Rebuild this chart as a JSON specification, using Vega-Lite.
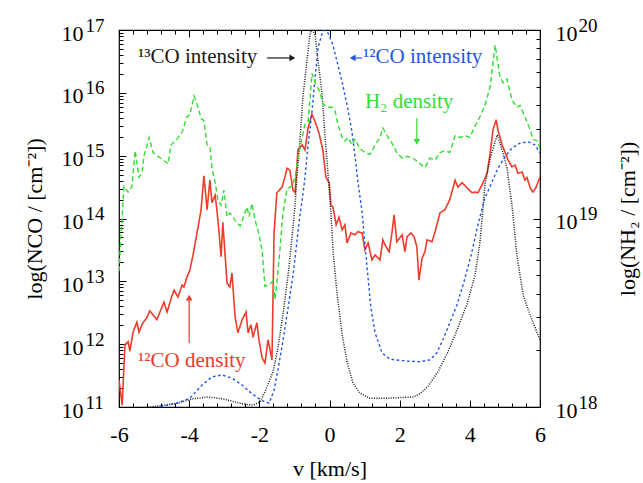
{
  "$schema": "https://vega.github.io/schema/vega-lite/v6.json",
  "width": 421,
  "height": 377,
  "autosize": {"type": "none"},
  "padding": {"left": 119, "top": 30, "right": 103, "bottom": 76},
  "background": "white",
  "config": {
    "view": {"stroke": "#000", "strokeWidth": 1.2},
    "font": "Liberation Serif",
    "axis": {"domain": false, "grid": false, "tickColor": "#000", "tickWidth": 1, "labelColor": "#000", "titleColor": "#000", "labelFont": "Liberation Serif", "titleFont": "Liberation Serif", "titleFontWeight": "normal", "labelFontSize": 22, "titleFontSize": 22, "labelOverlap": false, "labelFlush": false}
  },
  "datasets": {
    "co": [
      {"v":-6.00,"L":11.43,"s":"12CO density"},{"v":-5.91,"L":11.03,"s":"12CO density"},{"v":-5.83,"L":11.99,"s":"12CO density"},{"v":-5.74,"L":12.04,"s":"12CO density"},{"v":-5.69,"L":11.89,"s":"12CO density"},{"v":-5.60,"L":12.19,"s":"12CO density"},{"v":-5.49,"L":12.35,"s":"12CO density"},{"v":-5.43,"L":12.19,"s":"12CO density"},{"v":-5.34,"L":12.32,"s":"12CO density"},{"v":-5.20,"L":12.43,"s":"12CO density"},{"v":-5.12,"L":12.53,"s":"12CO density"},{"v":-4.92,"L":12.39,"s":"12CO density"},{"v":-4.72,"L":12.67,"s":"12CO density"},{"v":-4.63,"L":12.51,"s":"12CO density"},{"v":-4.49,"L":12.77,"s":"12CO density"},{"v":-4.43,"L":12.86,"s":"12CO density"},{"v":-4.32,"L":12.75,"s":"12CO density"},{"v":-4.20,"L":12.94,"s":"12CO density"},{"v":-4.15,"L":12.91,"s":"12CO density"},{"v":-4.06,"L":13.07,"s":"12CO density"},{"v":-3.98,"L":13.18,"s":"12CO density"},{"v":-3.89,"L":13.42,"s":"12CO density"},{"v":-3.75,"L":13.85,"s":"12CO density"},{"v":-3.66,"L":14.14,"s":"12CO density"},{"v":-3.58,"L":14.68,"s":"12CO density"},{"v":-3.49,"L":14.14,"s":"12CO density"},{"v":-3.41,"L":14.61,"s":"12CO density"},{"v":-3.35,"L":14.25,"s":"12CO density"},{"v":-3.26,"L":14.37,"s":"12CO density"},{"v":-3.21,"L":14.14,"s":"12CO density"},{"v":-3.15,"L":13.79,"s":"12CO density"},{"v":-3.09,"L":13.39,"s":"12CO density"},{"v":-3.04,"L":13.94,"s":"12CO density"},{"v":-2.92,"L":12.97,"s":"12CO density"},{"v":-2.84,"L":12.91,"s":"12CO density"},{"v":-2.78,"L":13.13,"s":"12CO density"},{"v":-2.69,"L":12.43,"s":"12CO density"},{"v":-2.61,"L":12.18,"s":"12CO density"},{"v":-2.49,"L":12.39,"s":"12CO density"},{"v":-2.38,"L":12.51,"s":"12CO density"},{"v":-2.32,"L":12.18,"s":"12CO density"},{"v":-2.24,"L":12.31,"s":"12CO density"},{"v":-2.18,"L":12.11,"s":"12CO density"},{"v":-2.07,"L":12.34,"s":"12CO density"},{"v":-2.01,"L":12.07,"s":"12CO density"},{"v":-1.92,"L":11.78,"s":"12CO density"},{"v":-1.84,"L":11.70,"s":"12CO density"},{"v":-1.75,"L":12.07,"s":"12CO density"},{"v":-1.64,"L":11.75,"s":"12CO density"},{"v":-1.58,"L":13.77,"s":"12CO density"},{"v":-1.50,"L":14.41,"s":"12CO density"},{"v":-1.35,"L":14.50,"s":"12CO density"},{"v":-1.27,"L":14.66,"s":"12CO density"},{"v":-1.21,"L":14.80,"s":"12CO density"},{"v":-1.13,"L":14.77,"s":"12CO density"},{"v":-1.04,"L":14.45,"s":"12CO density"},{"v":-0.98,"L":14.41,"s":"12CO density"},{"v":-0.90,"L":15.09,"s":"12CO density"},{"v":-0.78,"L":15.17,"s":"12CO density"},{"v":-0.70,"L":15.09,"s":"12CO density"},{"v":-0.61,"L":15.44,"s":"12CO density"},{"v":-0.50,"L":15.66,"s":"12CO density"},{"v":-0.41,"L":15.54,"s":"12CO density"},{"v":-0.30,"L":15.36,"s":"12CO density"},{"v":-0.19,"L":15.09,"s":"12CO density"},{"v":-0.10,"L":14.65,"s":"12CO density"},{"v":-0.01,"L":14.57,"s":"12CO density"},{"v":0.04,"L":14.22,"s":"12CO density"},{"v":0.10,"L":14.18,"s":"12CO density"},{"v":0.19,"L":13.90,"s":"12CO density"},{"v":0.27,"L":14.02,"s":"12CO density"},{"v":0.36,"L":13.82,"s":"12CO density"},{"v":0.44,"L":13.90,"s":"12CO density"},{"v":0.50,"L":13.61,"s":"12CO density"},{"v":0.61,"L":13.77,"s":"12CO density"},{"v":0.73,"L":13.74,"s":"12CO density"},{"v":0.81,"L":13.79,"s":"12CO density"},{"v":0.93,"L":13.77,"s":"12CO density"},{"v":1.01,"L":13.50,"s":"12CO density"},{"v":1.10,"L":13.61,"s":"12CO density"},{"v":1.21,"L":13.34,"s":"12CO density"},{"v":1.30,"L":13.42,"s":"12CO density"},{"v":1.44,"L":13.34,"s":"12CO density"},{"v":1.52,"L":13.66,"s":"12CO density"},{"v":1.61,"L":13.55,"s":"12CO density"},{"v":1.70,"L":13.47,"s":"12CO density"},{"v":1.78,"L":13.77,"s":"12CO density"},{"v":1.84,"L":14.06,"s":"12CO density"},{"v":1.92,"L":13.63,"s":"12CO density"},{"v":2.07,"L":13.74,"s":"12CO density"},{"v":2.15,"L":13.47,"s":"12CO density"},{"v":2.21,"L":13.71,"s":"12CO density"},{"v":2.32,"L":13.77,"s":"12CO density"},{"v":2.41,"L":13.71,"s":"12CO density"},{"v":2.49,"L":13.55,"s":"12CO density"},{"v":2.55,"L":13.02,"s":"12CO density"},{"v":2.64,"L":13.37,"s":"12CO density"},{"v":2.72,"L":13.47,"s":"12CO density"},{"v":2.78,"L":13.66,"s":"12CO density"},{"v":2.92,"L":13.63,"s":"12CO density"},{"v":3.01,"L":13.79,"s":"12CO density"},{"v":3.15,"L":14.09,"s":"12CO density"},{"v":3.29,"L":14.14,"s":"12CO density"},{"v":3.43,"L":14.30,"s":"12CO density"},{"v":3.58,"L":14.61,"s":"12CO density"},{"v":3.66,"L":14.50,"s":"12CO density"},{"v":3.78,"L":14.57,"s":"12CO density"},{"v":3.92,"L":14.49,"s":"12CO density"},{"v":4.06,"L":14.41,"s":"12CO density"},{"v":4.15,"L":14.42,"s":"12CO density"},{"v":4.23,"L":14.41,"s":"12CO density"},{"v":4.38,"L":14.57,"s":"12CO density"},{"v":4.49,"L":14.72,"s":"12CO density"},{"v":4.58,"L":15.04,"s":"12CO density"},{"v":4.66,"L":15.41,"s":"12CO density"},{"v":4.75,"L":15.57,"s":"12CO density"},{"v":4.80,"L":15.41,"s":"12CO density"},{"v":4.92,"L":15.17,"s":"12CO density"},{"v":5.00,"L":15.06,"s":"12CO density"},{"v":5.09,"L":14.93,"s":"12CO density"},{"v":5.20,"L":14.82,"s":"12CO density"},{"v":5.29,"L":14.85,"s":"12CO density"},{"v":5.37,"L":14.72,"s":"12CO density"},{"v":5.49,"L":14.74,"s":"12CO density"},{"v":5.57,"L":14.61,"s":"12CO density"},{"v":5.63,"L":14.65,"s":"12CO density"},{"v":5.72,"L":14.49,"s":"12CO density"},{"v":5.80,"L":14.42,"s":"12CO density"},{"v":5.89,"L":14.50,"s":"12CO density"},{"v":6.00,"L":14.66,"s":"12CO density"},
      {"v":-6.00,"L":10.98,"s":"13CO intensity"},{"v":-5.40,"L":10.98,"s":"13CO intensity"},{"v":-4.83,"L":11.02,"s":"13CO intensity"},{"v":-4.35,"L":11.06,"s":"13CO intensity"},{"v":-3.89,"L":11.13,"s":"13CO intensity"},{"v":-3.46,"L":11.16,"s":"13CO intensity"},{"v":-3.04,"L":11.13,"s":"13CO intensity"},{"v":-2.49,"L":11.05,"s":"13CO intensity"},{"v":-2.18,"L":11.03,"s":"13CO intensity"},{"v":-1.98,"L":11.08,"s":"13CO intensity"},{"v":-1.84,"L":11.24,"s":"13CO intensity"},{"v":-1.61,"L":11.56,"s":"13CO intensity"},{"v":-1.47,"L":11.94,"s":"13CO intensity"},{"v":-1.33,"L":12.46,"s":"13CO intensity"},{"v":-1.18,"L":13.10,"s":"13CO intensity"},{"v":-1.07,"L":13.69,"s":"13CO intensity"},{"v":-0.98,"L":14.22,"s":"13CO intensity"},{"v":-0.93,"L":14.65,"s":"13CO intensity"},{"v":-0.84,"L":15.25,"s":"13CO intensity"},{"v":-0.76,"L":15.92,"s":"13CO intensity"},{"v":-0.64,"L":16.52,"s":"13CO intensity"},{"v":-0.56,"L":16.92,"s":"13CO intensity"},{"v":-0.50,"L":17.02,"s":"13CO intensity"},{"v":-0.41,"L":16.92,"s":"13CO intensity"},{"v":-0.33,"L":16.52,"s":"13CO intensity"},{"v":-0.21,"L":15.97,"s":"13CO intensity"},{"v":-0.13,"L":15.33,"s":"13CO intensity"},{"v":-0.04,"L":14.69,"s":"13CO intensity"},{"v":0.04,"L":14.10,"s":"13CO intensity"},{"v":0.10,"L":13.50,"s":"13CO intensity"},{"v":0.21,"L":12.83,"s":"13CO intensity"},{"v":0.36,"L":12.15,"s":"13CO intensity"},{"v":0.50,"L":11.72,"s":"13CO intensity"},{"v":0.67,"L":11.38,"s":"13CO intensity"},{"v":0.87,"L":11.22,"s":"13CO intensity"},{"v":1.15,"L":11.14,"s":"13CO intensity"},{"v":1.67,"L":11.14,"s":"13CO intensity"},{"v":2.38,"L":11.16,"s":"13CO intensity"},{"v":2.58,"L":11.21,"s":"13CO intensity"},{"v":2.81,"L":11.33,"s":"13CO intensity"},{"v":3.09,"L":11.56,"s":"13CO intensity"},{"v":3.38,"L":11.88,"s":"13CO intensity"},{"v":3.66,"L":12.26,"s":"13CO intensity"},{"v":3.92,"L":12.64,"s":"13CO intensity"},{"v":4.15,"L":13.10,"s":"13CO intensity"},{"v":4.29,"L":13.63,"s":"13CO intensity"},{"v":4.43,"L":14.53,"s":"13CO intensity"},{"v":4.58,"L":14.96,"s":"13CO intensity"},{"v":4.78,"L":15.33,"s":"13CO intensity"},{"v":4.92,"L":15.09,"s":"13CO intensity"},{"v":5.06,"L":14.80,"s":"13CO intensity"},{"v":5.20,"L":14.22,"s":"13CO intensity"},{"v":5.34,"L":13.42,"s":"13CO intensity"},{"v":5.52,"L":12.78,"s":"13CO intensity"},{"v":5.72,"L":12.46,"s":"13CO intensity"},{"v":5.94,"L":12.15,"s":"13CO intensity"},{"v":6.00,"L":12.07,"s":"13CO intensity"},
      {"v":-6.00,"L":10.98,"s":"12CO intensity"},{"v":-5.12,"L":10.98,"s":"12CO intensity"},{"v":-4.69,"L":11.02,"s":"12CO intensity"},{"v":-4.35,"L":11.06,"s":"12CO intensity"},{"v":-3.98,"L":11.14,"s":"12CO intensity"},{"v":-3.63,"L":11.35,"s":"12CO intensity"},{"v":-3.35,"L":11.48,"s":"12CO intensity"},{"v":-3.06,"L":11.51,"s":"12CO intensity"},{"v":-2.78,"L":11.46,"s":"12CO intensity"},{"v":-2.49,"L":11.35,"s":"12CO intensity"},{"v":-2.21,"L":11.21,"s":"12CO intensity"},{"v":-1.92,"L":11.10,"s":"12CO intensity"},{"v":-1.72,"L":11.06,"s":"12CO intensity"},{"v":-1.58,"L":11.27,"s":"12CO intensity"},{"v":-1.47,"L":11.59,"s":"12CO intensity"},{"v":-1.33,"L":12.04,"s":"12CO intensity"},{"v":-1.18,"L":12.58,"s":"12CO intensity"},{"v":-1.04,"L":13.10,"s":"12CO intensity"},{"v":-0.93,"L":13.63,"s":"12CO intensity"},{"v":-0.84,"L":14.06,"s":"12CO intensity"},{"v":-0.76,"L":14.37,"s":"12CO intensity"},{"v":-0.70,"L":14.65,"s":"12CO intensity"},{"v":-0.61,"L":15.17,"s":"12CO intensity"},{"v":-0.50,"L":15.70,"s":"12CO intensity"},{"v":-0.41,"L":16.24,"s":"12CO intensity"},{"v":-0.33,"L":16.71,"s":"12CO intensity"},{"v":-0.21,"L":16.95,"s":"12CO intensity"},{"v":-0.13,"L":17.00,"s":"12CO intensity"},{"v":-0.04,"L":16.95,"s":"12CO intensity"},{"v":0.10,"L":16.76,"s":"12CO intensity"},{"v":0.24,"L":16.44,"s":"12CO intensity"},{"v":0.36,"L":16.17,"s":"12CO intensity"},{"v":0.50,"L":15.81,"s":"12CO intensity"},{"v":0.64,"L":15.38,"s":"12CO intensity"},{"v":0.73,"L":14.98,"s":"12CO intensity"},{"v":0.81,"L":14.58,"s":"12CO intensity"},{"v":0.93,"L":14.10,"s":"12CO intensity"},{"v":1.01,"L":13.58,"s":"12CO intensity"},{"v":1.10,"L":13.05,"s":"12CO intensity"},{"v":1.18,"L":12.58,"s":"12CO intensity"},{"v":1.30,"L":12.18,"s":"12CO intensity"},{"v":1.50,"L":11.86,"s":"12CO intensity"},{"v":1.72,"L":11.76,"s":"12CO intensity"},{"v":2.21,"L":11.73,"s":"12CO intensity"},{"v":2.58,"L":11.72,"s":"12CO intensity"},{"v":2.86,"L":11.75,"s":"12CO intensity"},{"v":3.06,"L":11.86,"s":"12CO intensity"},{"v":3.23,"L":12.07,"s":"12CO intensity"},{"v":3.43,"L":12.34,"s":"12CO intensity"},{"v":3.63,"L":12.62,"s":"12CO intensity"},{"v":3.83,"L":12.99,"s":"12CO intensity"},{"v":4.03,"L":13.40,"s":"12CO intensity"},{"v":4.23,"L":13.90,"s":"12CO intensity"},{"v":4.43,"L":14.33,"s":"12CO intensity"},{"v":4.63,"L":14.58,"s":"12CO intensity"},{"v":4.80,"L":14.80,"s":"12CO intensity"},{"v":5.00,"L":14.98,"s":"12CO intensity"},{"v":5.20,"L":15.12,"s":"12CO intensity"},{"v":5.43,"L":15.20,"s":"12CO intensity"},{"v":5.66,"L":15.22,"s":"12CO intensity"},{"v":5.86,"L":15.17,"s":"12CO intensity"},{"v":6.00,"L":15.04,"s":"12CO intensity"}
    ],
    "h2": [
      {"v":-6.00,"H":18.72},{"v":-5.86,"H":19.17},{"v":-5.74,"H":19.14},{"v":-5.63,"H":19.17},{"v":-5.54,"H":19.36},{"v":-5.43,"H":19.22},{"v":-5.34,"H":19.24},{"v":-5.29,"H":19.33},{"v":-5.14,"H":19.43},{"v":-5.03,"H":19.35},{"v":-4.74,"H":19.31},{"v":-4.60,"H":19.29},{"v":-4.52,"H":19.39},{"v":-4.35,"H":19.42},{"v":-4.20,"H":19.46},{"v":-4.06,"H":19.54},{"v":-3.98,"H":19.55},{"v":-3.86,"H":19.65},{"v":-3.75,"H":19.59},{"v":-3.66,"H":19.53},{"v":-3.58,"H":19.52},{"v":-3.49,"H":19.39},{"v":-3.41,"H":19.38},{"v":-3.35,"H":19.27},{"v":-3.26,"H":19.19},{"v":-3.18,"H":19.10},{"v":-3.09,"H":19.07},{"v":-3.01,"H":19.15},{"v":-2.92,"H":19.01},{"v":-2.84,"H":19.03},{"v":-2.69,"H":18.99},{"v":-2.55,"H":18.96},{"v":-2.41,"H":19.03},{"v":-2.35,"H":19.06},{"v":-2.29,"H":19.01},{"v":-2.21,"H":19.08},{"v":-2.12,"H":18.99},{"v":-2.04,"H":18.94},{"v":-1.92,"H":18.83},{"v":-1.84,"H":18.64},{"v":-1.70,"H":18.65},{"v":-1.61,"H":18.67},{"v":-1.55,"H":18.57},{"v":-1.50,"H":18.66},{"v":-1.41,"H":18.84},{"v":-1.33,"H":19.02},{"v":-1.21,"H":19.16},{"v":-1.07,"H":19.17},{"v":-0.98,"H":19.22},{"v":-0.90,"H":19.32},{"v":-0.78,"H":19.43},{"v":-0.70,"H":19.50},{"v":-0.61,"H":19.51},{"v":-0.50,"H":19.77},{"v":-0.41,"H":19.72},{"v":-0.27,"H":19.67},{"v":-0.19,"H":19.61},{"v":-0.07,"H":19.59},{"v":0.07,"H":19.59},{"v":0.16,"H":19.57},{"v":0.24,"H":19.50},{"v":0.36,"H":19.43},{"v":0.44,"H":19.41},{"v":0.53,"H":19.43},{"v":0.64,"H":19.39},{"v":0.73,"H":19.42},{"v":0.87,"H":19.37},{"v":1.01,"H":19.35},{"v":1.15,"H":19.34},{"v":1.30,"H":19.39},{"v":1.44,"H":19.43},{"v":1.52,"H":19.48},{"v":1.64,"H":19.44},{"v":1.78,"H":19.40},{"v":1.92,"H":19.35},{"v":2.07,"H":19.32},{"v":2.21,"H":19.33},{"v":2.38,"H":19.32},{"v":2.52,"H":19.30},{"v":2.72,"H":19.27},{"v":2.86,"H":19.32},{"v":3.01,"H":19.31},{"v":3.15,"H":19.35},{"v":3.29,"H":19.36},{"v":3.43,"H":19.35},{"v":3.58,"H":19.44},{"v":3.72,"H":19.43},{"v":3.86,"H":19.44},{"v":4.00,"H":19.43},{"v":4.15,"H":19.49},{"v":4.29,"H":19.54},{"v":4.43,"H":19.60},{"v":4.58,"H":19.70},{"v":4.72,"H":19.92},{"v":4.86,"H":19.75},{"v":4.95,"H":19.72},{"v":5.06,"H":19.74},{"v":5.20,"H":19.63},{"v":5.34,"H":19.59},{"v":5.43,"H":19.60},{"v":5.57,"H":19.54},{"v":5.72,"H":19.47},{"v":5.80,"H":19.42},{"v":5.94,"H":19.41},{"v":6.00,"H":19.37}
    ],
    "ann": [
      {"v":-5.46,"L":16.475,"label":"¹³CO intensity","s":"13CO intensity"},
      {"v":0.955,"L":16.475,"label":"¹²CO intensity","s":"12CO intensity"},
      {"v":1.01,"L":15.76,"label":"H₂ density","s":"H2 density"},
      {"v":-5.46,"L":11.64,"label":"¹²CO density","s":"12CO density"}
    ],
    "arrows": [
      {"v":-1.78,"L":16.555,"v2":-1.02,"L2":16.555,"s":"13CO intensity"},
      {"v":0.62,"L":16.555,"v2":0.93,"L2":16.555,"s":"12CO intensity"},
      {"v":2.49,"L":15.60,"v2":2.49,"L2":15.20,"s":"H2 density"},
      {"v":-4.0,"L":12.02,"v2":-4.0,"L2":12.75,"s":"12CO density"}
    ],
    "heads": [
      {"v":-1.06,"L":16.555,"dir":"right","s":"13CO intensity"},
      {"v":0.66,"L":16.555,"dir":"left","s":"12CO intensity"},
      {"v":2.49,"L":15.22,"dir":"down","s":"H2 density"},
      {"v":-4.0,"L":12.74,"dir":"up","s":"12CO density"}
    ]
  },
  "layer": [
    {
      "data": {"name": "co"},
      "mark": {"type": "line", "clip": true, "strokeCap": "butt"},
      "encoding": {
        "x": {"field": "v", "type": "quantitative", "scale": {"domain": [-6, 6], "nice": false, "zero": false},
          "axis": {"orient": "bottom", "values": [-6, -4, -2, 0, 2, 4, 6], "ticks": false, "tickSize": 0, "labelPadding": 17, "labelBaseline": "top", "labelExpr": "datum.value < 0 ? '-' + abs(datum.value) : '' + datum.value", "title": "v [km/s]", "titlePadding": 13}},
        "y": {"field": "L", "type": "quantitative", "scale": {"domain": [11, 17], "nice": false, "zero": false},
          "axis": {"orient": "left", "values": [11, 12, 13, 14, 15, 16, 17], "ticks": false, "tickSize": 0, "labelPadding": 36, "labelAlign": "right", "labelBaseline": "middle", "labelOffset": 3, "labelExpr": "'10'", "title": "log(NCO / [cm⁻²])", "titleAngle": 270, "titleBaseline": "bottom", "titlePadding": 15}},
        "color": {"field": "s", "type": "nominal", "scale": {"domain": ["12CO density", "13CO intensity", "12CO intensity", "H2 density"], "range": ["#ee3b2b", "#1a1a1a", "#1f55e6", "#33dd33"]}, "legend": null},
        "strokeDash": {"field": "s", "type": "nominal", "scale": {"domain": ["12CO density", "13CO intensity", "12CO intensity", "H2 density"], "range": [[1, 0], [1, 1.4], [2.6, 2.6], [5, 3]]}, "legend": null},
        "size": {"field": "s", "type": "nominal", "scale": {"domain": ["12CO density", "13CO intensity", "12CO intensity", "H2 density"], "range": [1.6, 1.3, 2.6, 1.4]}, "legend": null}
      }
    },
    {
      "data": {"name": "h2"},
      "mark": {"type": "line", "clip": true, "color": "#33dd33", "strokeDash": [5, 3], "strokeWidth": 1.4},
      "encoding": {
        "x": {"field": "v", "type": "quantitative", "scale": {"domain": [-6, 6], "nice": false, "zero": false},
          "axis": {"orient": "top", "values": [-6, -4, -2, 0, 2, 4, 6], "tickSize": -7, "labels": false, "title": null}},
        "y": {"field": "H", "type": "quantitative", "scale": {"domain": [18, 20], "nice": false, "zero": false},
          "axis": {"orient": "right", "values": [18, 19, 20], "ticks": false, "tickSize": 0, "labelPadding": 15, "labelAlign": "left", "labelBaseline": "middle", "labelOffset": 3, "labelExpr": "'10'", "title": "log(NH₂ / [cm⁻²])", "titleAngle": 270, "titleBaseline": "top", "titlePadding": 40}}
      }
    },
    {
      "data": {"name": "h2"},
      "mark": {"type": "line", "clip": true, "strokeOpacity": 0},
      "encoding": {
        "x": {"field": "v", "type": "quantitative", "scale": {"domain": [-6, 6], "nice": false, "zero": false},
          "axis": {"orient": "bottom", "values": [-6, -4, -2, 0, 2, 4, 6], "tickSize": -7, "labels": false, "title": null}},
        "y": {"field": "H", "type": "quantitative", "scale": {"domain": [11, 17], "nice": false, "zero": false},
          "axis": {"orient": "left", "values": [11, 12, 13, 14, 15, 16, 17], "tickSize": -7, "labels": false, "title": null}}
      }
    },
    {
      "data": {"name": "h2"},
      "mark": {"type": "line", "clip": true, "strokeOpacity": 0},
      "encoding": {
        "x": {"field": "v", "type": "quantitative", "scale": {"domain": [-6, 6], "nice": false, "zero": false},
          "axis": {"orient": "bottom", "values": [-5.6, -5.2, -4.8, -4.4, -3.6, -3.2, -2.8, -2.4, -1.6, -1.2, -0.8, -0.4, 0.4, 0.8, 1.2, 1.6, 2.4, 2.8, 3.2, 3.6, 4.4, 4.8, 5.2, 5.6], "tickSize": -4, "labels": false, "title": null}},
        "y": {"field": "H", "type": "quantitative", "scale": {"domain": [11, 17], "nice": false, "zero": false},
          "axis": {"orient": "left", "values": [11.301, 11.477, 11.602, 11.699, 11.778, 11.845, 11.903, 11.954, 12.301, 12.477, 12.602, 12.699, 12.778, 12.845, 12.903, 12.954, 13.301, 13.477, 13.602, 13.699, 13.778, 13.845, 13.903, 13.954, 14.301, 14.477, 14.602, 14.699, 14.778, 14.845, 14.903, 14.954, 15.301, 15.477, 15.602, 15.699, 15.778, 15.845, 15.903, 15.954, 16.301, 16.477, 16.602, 16.699, 16.778, 16.845, 16.903, 16.954], "tickSize": -4, "labels": false, "title": null}}
      }
    },
    {
      "data": {"name": "h2"},
      "mark": {"type": "line", "clip": true, "strokeOpacity": 0},
      "encoding": {
        "x": {"field": "v", "type": "quantitative", "scale": {"domain": [-6, 6], "nice": false, "zero": false},
          "axis": {"orient": "top", "values": [-5.6, -5.2, -4.8, -4.4, -3.6, -3.2, -2.8, -2.4, -1.6, -1.2, -0.8, -0.4, 0.4, 0.8, 1.2, 1.6, 2.4, 2.8, 3.2, 3.6, 4.4, 4.8, 5.2, 5.6], "tickSize": -4, "labels": false, "title": null}},
        "y": {"field": "H", "type": "quantitative", "scale": {"domain": [18, 20], "nice": false, "zero": false},
          "axis": {"orient": "right", "values": [18, 19, 20], "tickSize": -7, "labels": false, "title": null}}
      }
    },
    {
      "data": {"name": "h2"},
      "mark": {"type": "line", "clip": true, "strokeOpacity": 0},
      "encoding": {
        "x": {"field": "v", "type": "quantitative", "scale": {"domain": [-6, 6], "nice": false, "zero": false}, "axis": null},
        "y": {"field": "H", "type": "quantitative", "scale": {"domain": [18, 20], "nice": false, "zero": false},
          "axis": {"orient": "right", "values": [18.301, 18.477, 18.602, 18.699, 18.778, 18.845, 18.903, 18.954, 19.301, 19.477, 19.602, 19.699, 19.778, 19.845, 19.903, 19.954], "tickSize": -4, "labels": false, "title": null}}
      }
    },
    {
      "data": {"name": "h2"},
      "mark": {"type": "line", "clip": true, "strokeOpacity": 0},
      "encoding": {
        "x": {"field": "v", "type": "quantitative", "scale": {"domain": [-6, 6], "nice": false, "zero": false}, "axis": null},
        "y": {"field": "H", "type": "quantitative", "scale": {"domain": [11, 17], "nice": false, "zero": false},
          "axis": {"orient": "left", "values": [11, 12, 13, 14, 15, 16, 17], "ticks": false, "tickSize": 0, "labelPadding": 34, "labelAlign": "left", "labelBaseline": "middle", "labelOffset": -5, "labelFontSize": 19, "labelExpr": "'' + datum.value", "title": null}}
      }
    },
    {
      "data": {"name": "h2"},
      "mark": {"type": "line", "clip": true, "strokeOpacity": 0},
      "encoding": {
        "x": {"field": "v", "type": "quantitative", "scale": {"domain": [-6, 6], "nice": false, "zero": false}, "axis": null},
        "y": {"field": "H", "type": "quantitative", "scale": {"domain": [18, 20], "nice": false, "zero": false},
          "axis": {"orient": "right", "values": [18, 19, 20], "ticks": false, "tickSize": 0, "labelPadding": 38, "labelAlign": "left", "labelBaseline": "middle", "labelOffset": -5, "labelFontSize": 19, "labelExpr": "'' + datum.value", "title": null}}
      }
    },
    {
      "data": {"name": "ann"},
      "mark": {"type": "text", "align": "left", "baseline": "alphabetic", "font": "Liberation Serif", "fontSize": 21},
      "encoding": {
        "x": {"field": "v", "type": "quantitative", "scale": {"domain": [-6, 6], "nice": false, "zero": false}, "axis": null},
        "y": {"field": "L", "type": "quantitative", "scale": {"domain": [11, 17], "nice": false, "zero": false}, "axis": null},
        "text": {"field": "label"},
        "color": {"field": "s", "type": "nominal", "legend": null}
      }
    },
    {
      "data": {"name": "arrows"},
      "mark": {"type": "rule", "strokeWidth": 1.2},
      "encoding": {
        "x": {"field": "v", "type": "quantitative", "scale": {"domain": [-6, 6], "nice": false, "zero": false}, "axis": null},
        "x2": {"field": "v2"},
        "y": {"field": "L", "type": "quantitative", "scale": {"domain": [11, 17], "nice": false, "zero": false}, "axis": null},
        "y2": {"field": "L2"},
        "color": {"field": "s", "type": "nominal", "legend": null}
      }
    },
    {
      "data": {"name": "heads"},
      "mark": {"type": "point", "filled": true, "size": 45, "opacity": 1},
      "encoding": {
        "x": {"field": "v", "type": "quantitative", "scale": {"domain": [-6, 6], "nice": false, "zero": false}, "axis": null},
        "y": {"field": "L", "type": "quantitative", "scale": {"domain": [11, 17], "nice": false, "zero": false}, "axis": null},
        "shape": {"field": "dir", "type": "nominal", "scale": {"domain": ["right", "left", "down", "up"], "range": ["triangle-right", "triangle-left", "triangle-down", "triangle-up"]}, "legend": null},
        "color": {"field": "s", "type": "nominal", "legend": null}
      }
    }
  ],
  "resolve": {"scale": {"x": "independent", "y": "independent"}, "axis": {"x": "independent", "y": "independent"}}
}
